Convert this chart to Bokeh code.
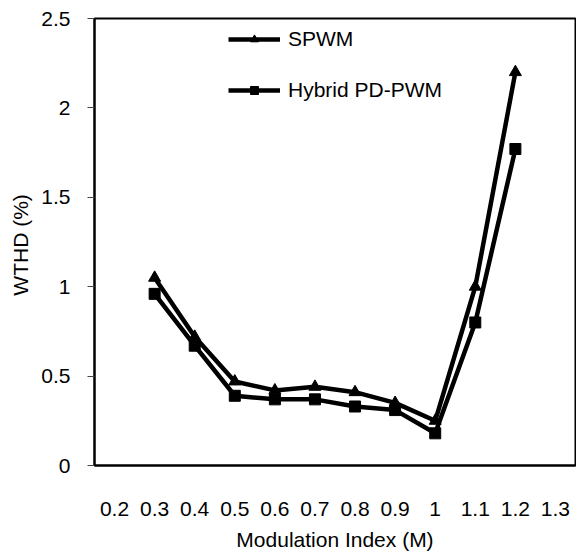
from bokeh.plotting import figure
from bokeh.models import FactorRange, Range1d, FixedTicker, Legend, LegendItem, ColumnDataSource
from bokeh.embed import file_html
from bokeh.resources import INLINE

# ---- data ----
categories = ["0.2", "0.3", "0.4", "0.5", "0.6", "0.7", "0.8", "0.9", "1", "1.1", "1.2", "1.3"]
m_index = ["0.3", "0.4", "0.5", "0.6", "0.7", "0.8", "0.9", "1", "1.1", "1.2"]
spwm = [1.05, 0.72, 0.47, 0.42, 0.44, 0.41, 0.35, 0.25, 1.00, 2.20]
hybrid = [0.96, 0.67, 0.39, 0.37, 0.37, 0.33, 0.31, 0.18, 0.80, 1.77]
y_ticks = [0, 0.5, 1, 1.5, 2, 2.5]
y_tick_labels = ["0", "0.5", "1", "1.5", "2", "2.5"]

FONT = "Liberation Sans"
FS = "21px"

src = ColumnDataSource(dict(x=m_index, spwm=spwm, hybrid=hybrid))

p = figure(width=576, height=553, x_range=FactorRange(*categories, range_padding=0),
           y_range=Range1d(0, 2.5), output_backend="svg", toolbar_location=None,
           min_border_left=94, min_border_top=18, min_border_right=1, min_border_bottom=86)

p.xgrid.visible = False
p.ygrid.visible = False
p.outline_line_color = "black"
p.outline_line_width = 2
p.background_fill_color = "white"

l1 = p.line("x", "spwm", source=src, line_color="black", line_width=4.5)
m1 = p.scatter("x", "spwm", source=src, marker="triangle", size=12, fill_color="black", line_color="black")
l2 = p.line("x", "hybrid", source=src, line_color="black", line_width=4.5)
m2 = p.scatter("x", "hybrid", source=src, marker="square", size=11, fill_color="black", line_color="black")

# axes
xa = p.xaxis[0]
xa.axis_label = "Modulation Index (M)"
xa.major_tick_line_color = None
xa.minor_tick_line_color = None
xa.major_label_standoff = 30
xa.axis_label_standoff = 9
xa.axis_line_color = "black"
xa.axis_line_width = 2

ya = p.yaxis[0]
ya.axis_label = "WTHD  (%)"
ya.ticker = FixedTicker(ticks=y_ticks)
ya.major_label_overrides = {t: s for t, s in zip(y_ticks, y_tick_labels)}
ya.major_tick_out = 7
ya.major_tick_in = 0
ya.major_tick_line_color = "#444444"
ya.minor_tick_line_color = None
ya.major_label_standoff = 17
ya.axis_label_standoff = 6
ya.axis_line_color = "black"
ya.axis_line_width = 2

for ax in (xa, ya):
    ax.major_label_text_font = FONT
    ax.major_label_text_font_size = FS
    ax.major_label_text_color = "black"
    ax.axis_label_text_font = FONT
    ax.axis_label_text_font_size = FS
    ax.axis_label_text_font_style = "normal"
    ax.axis_label_text_color = "black"

legend = Legend(items=[LegendItem(label="SPWM", renderers=[l1, m1]),
                       LegendItem(label="Hybrid PD-PWM", renderers=[l2, m2])],
                location=(134, 363), orientation="vertical",
                glyph_width=52, glyph_height=20, spacing=27, padding=0, margin=0,
                label_standoff=8, label_text_font=FONT, label_text_font_size=FS,
                label_text_color="black", border_line_color=None, background_fill_alpha=0)
p.add_layout(legend)

open("out.html", "w").write(file_html(p, INLINE))
